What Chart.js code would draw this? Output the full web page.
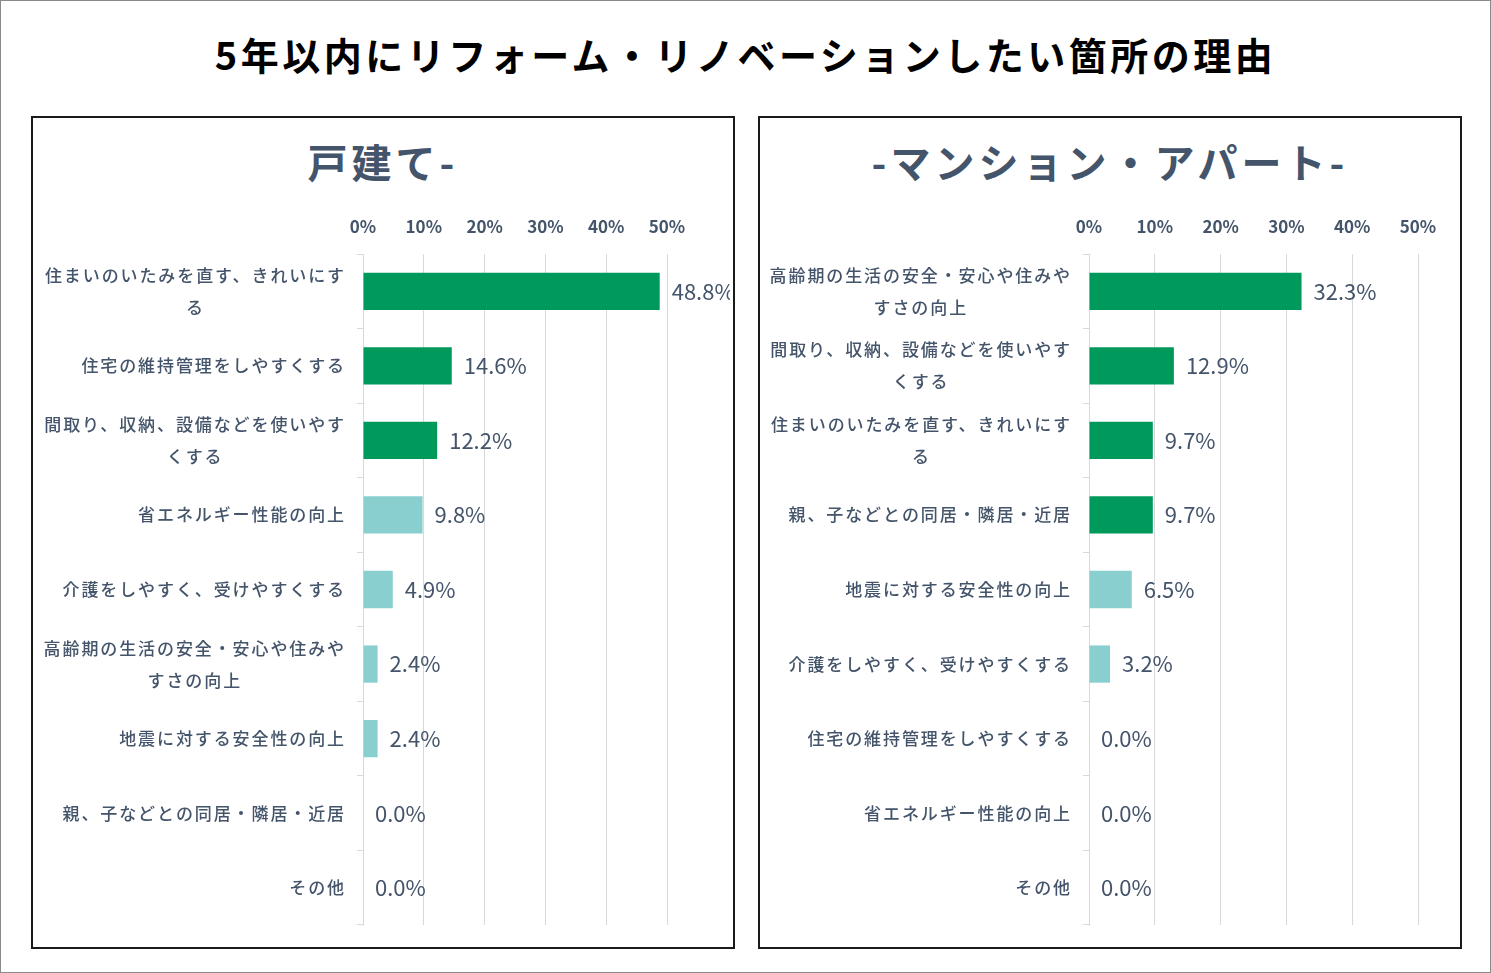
<!DOCTYPE html>
<html lang="ja">
<head>
<meta charset="UTF-8">
<title>5年以内にリフォーム・リノベーションしたい箇所の理由</title>
<script src="https://cdn.jsdelivr.net/npm/chart.js"></script>
<style>
  body { margin: 0; width: 1491px; height: 973px; position: relative; font-family: "Noto Sans CJK JP", sans-serif; background: #fff; }
  #frame { position: absolute; left: 0; top: 0; width: 1489px; height: 971px; border: 1px solid #8a8a8a; }
  h1 { position: absolute; left: 0; width: 1491px; top: 26px; margin: 0; text-align: center; font-size: 38px; font-weight: bold; color: #000; letter-spacing: 3.5px; }
  .panel { position: absolute; top: 116px; width: 700px; height: 829px; border: 2px solid #1a1a1a; }
  .panel h2 { position: absolute; top: 14px; left: 0; width: 100%; margin: 0; text-align: center; font-size: 40px; font-weight: bold; color: #44546A; letter-spacing: 4px; }
  canvas { position: absolute; }
</style>
</head>
<body>
<div id="frame"></div>
<h1>5年以内にリフォーム・リノベーションしたい箇所の理由</h1>
<div class="panel" style="left:31px"><h2>戸建て-</h2></div>
<div class="panel" style="left:758px"><h2>-マンション・アパート-</h2></div>
<canvas id="houseChart" width="695" height="740" style="left:35px; top:200px"></canvas>
<canvas id="aptChart" width="695" height="740" style="left:762px; top:200px"></canvas>

<script>
// 戸建て
const houseLabels = [
  ['住まいのいたみを直す、きれいにす', 'る'],
  ['住宅の維持管理をしやすくする'],
  ['間取り、収納、設備などを使いやす', 'くする'],
  ['省エネルギー性能の向上'],
  ['介護をしやすく、受けやすくする'],
  ['高齢期の生活の安全・安心や住みや', 'すさの向上'],
  ['地震に対する安全性の向上'],
  ['親、子などとの同居・隣居・近居'],
  ['その他']
];
const houseValues = [48.8, 14.6, 12.2, 9.8, 4.9, 2.4, 2.4, 0.0, 0.0];
const houseDarkCount = 3;

// マンション・アパート
const aptLabels = [
  ['高齢期の生活の安全・安心や住みや', 'すさの向上'],
  ['間取り、収納、設備などを使いやす', 'くする'],
  ['住まいのいたみを直す、きれいにす', 'る'],
  ['親、子などとの同居・隣居・近居'],
  ['地震に対する安全性の向上'],
  ['介護をしやすく、受けやすくする'],
  ['住宅の維持管理をしやすくする'],
  ['省エネルギー性能の向上'],
  ['その他']
];
const aptValues = [32.3, 12.9, 9.7, 9.7, 6.5, 3.2, 0.0, 0.0, 0.0];
const aptDarkCount = 4;

const DARK = '#00995C';
const LIGHT = '#8ACFD0';
const TEXT = '#44546A';
const FONT = '"Noto Sans CJK JP", sans-serif';

// カテゴリ名（複数行は中央揃え、ブロックは右寄せ）と値ラベル
const labelPlugin = {
  id: 'labelPlugin',
  afterDraw(chart) {
    const ctx = chart.ctx;
    const y = chart.scales.y;
    const x = chart.scales.x;
    const labels = chart.options.plugins.labelPlugin.labels;
    ctx.save();
    ctx.fillStyle = TEXT;
    ctx.textBaseline = 'middle';
    const right = chart.chartArea.left - 17;
    ctx.font = '500 17px ' + FONT;
    ctx.letterSpacing = '1.9px';
    labels.forEach((lines, i) => {
      const cy = y.getPixelForValue(i);
      const w = Math.max(...lines.map(l => ctx.measureText(l).width));
      const cx = right - w / 2;
      ctx.textAlign = 'center';
      const lh = 32;
      lines.forEach((l, j) => {
        ctx.fillText(l, cx, cy + (j - (lines.length - 1) / 2) * lh);
      });
    });
    const meta = chart.getDatasetMeta(0);
    ctx.letterSpacing = '0px';
    ctx.font = '22px ' + FONT;
    ctx.textAlign = 'left';
    chart.data.datasets[0].data.forEach((v, i) => {
      ctx.fillText(v.toFixed(1) + '%', x.getPixelForValue(v) + 12, meta.data[i].y);
    });
    ctx.restore();
  }
};

function makeChart(id, labels, values, darkCount, yWidth, padRight) {
  new Chart(document.getElementById(id), {
    type: 'bar',
    data: {
      labels: labels.map(l => l.join('')),
      datasets: [{
        data: values,
        backgroundColor: values.map((v, i) => i < darkCount ? DARK : LIGHT),
        barPercentage: 0.5,
        categoryPercentage: 1.0
      }]
    },
    options: {
      indexAxis: 'y',
      responsive: false,
      animation: false,
      layout: { padding: { right: padRight, bottom: 15 } },
      plugins: {
        legend: { display: false },
        tooltip: { enabled: false },
        labelPlugin: { labels: labels }
      },
      scales: {
        x: {
          position: 'top',
          min: 0, max: 50,
          ticks: { stepSize: 10, callback: v => v + '%', color: TEXT, font: { family: FONT, size: 17, weight: 'bold' }, padding: 17 },
          grid: { color: '#D9D9D9', drawTicks: false },
          border: { display: false },
          afterFit(s) { s.height = 54; }
        },
        y: {
          ticks: { display: false },
          grid: { drawOnChartArea: false, color: '#D9D9D9', tickLength: 6, offset: true },
          border: { color: '#D9D9D9' },
          afterFit(s) { s.width = yWidth; }
        }
      }
    },
    plugins: [labelPlugin]
  });
}

makeChart('houseChart', houseLabels, houseValues, houseDarkCount, 328, 63);
makeChart('aptChart', aptLabels, aptValues, aptDarkCount, 327, 39);
</script>
</body>
</html>
